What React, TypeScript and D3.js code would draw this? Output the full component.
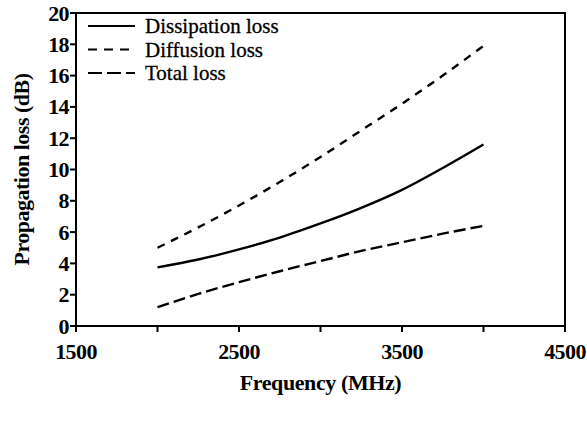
import React from "react";
import * as d3 from "d3";

const freq = [2000, 2250, 2500, 2750, 3000, 3250, 3500, 3750, 4000];
const dissipation = [3.75, 4.25, 4.9, 5.65, 6.55, 7.55, 8.7, 10.1, 11.6];
const diffusion = [5.0, 6.3, 7.7, 9.2, 10.8, 12.5, 14.2, 16.0, 17.9];
const total = [1.2, 2.05, 2.8, 3.5, 4.15, 4.8, 5.35, 5.9, 6.4];
const xTicks = [1500, 2000, 2500, 3000, 3500, 4000, 4500];
const xLabels = [1500, 2500, 3500, 4500];
const yTicks = [0, 2, 4, 6, 8, 10, 12, 14, 16, 18, 20];
const seriesNames = ["Dissipation loss", "Diffusion loss", "Total loss"];

const W = 587, H = 425;
const M = { left: 76, right: 22, top: 13, bottom: 99 };
const FONT = "Liberation Serif";

export default function App() {
  const x = d3.scaleLinear().domain([1500, 4500]).range([M.left, W - M.right]);
  const y = d3.scaleLinear().domain([0, 20]).range([H - M.bottom, M.top]);
  const line = d3
    .line<number>()
    .x((_, i) => x(freq[i]))
    .y((d) => y(d))
    .curve(d3.curveMonotoneX);
  const series = [
    { name: seriesNames[0], values: dissipation, dash: "none" },
    { name: seriesNames[1], values: diffusion, dash: "8,7" },
    { name: seriesNames[2], values: total, dash: "12,5" },
  ];
  const x0 = M.left, x1 = W - M.right, y0 = H - M.bottom, y1 = M.top;
  const rowY = (i: number) => 26 + i * 23.5;
  return (
    <svg width={W} height={H} style={{ position: "absolute", left: 0, top: 0, background: "#fff" }}>
      <rect x={x0} y={y1} width={x1 - x0} height={y0 - y1} fill="none" stroke="#000" strokeWidth={2} />
      {xTicks.map((t) => (
        <line key={"xt" + t} x1={x(t)} x2={x(t)} y1={y0} y2={y0 + 6} stroke="#000" strokeWidth={2} />
      ))}
      {xLabels.map((t) => (
        <text key={"xl" + t} x={x(t)} y={y0 + 33} textAnchor="middle" fontFamily={FONT} fontWeight="bold" fontSize={22} letterSpacing={-0.6}>
          {t}
        </text>
      ))}
      {yTicks.map((t) => (
        <g key={"yt" + t}>
          <line x1={x0 - 6} x2={x0} y1={y(t)} y2={y(t)} stroke="#000" strokeWidth={2} />
          <text x={x0 - 7} y={y(t) + 7.5} textAnchor="end" fontFamily={FONT} fontWeight="bold" fontSize={22} letterSpacing={-0.6}>
            {t}
          </text>
        </g>
      ))}
      <text x={(x0 + x1) / 2} y={y0 + 64} textAnchor="middle" fontFamily={FONT} fontWeight="bold" fontSize={22} letterSpacing={-0.4}>
        Frequency (MHz)
      </text>
      <text transform={`translate(29,${(y0 + y1) / 2}) rotate(-90)`} textAnchor="middle" fontFamily={FONT} fontWeight="bold" fontSize={22} letterSpacing={-0.5}>
        Propagation loss (dB)
      </text>
      {series.map((s) => (
        <path key={s.name} d={line(s.values) || ""} fill="none" stroke="#000" strokeWidth={2.4} strokeDasharray={s.dash} />
      ))}
      {series.map((s, i) => (
        <g key={"lg" + i}>
          <line
            x1={88}
            x2={135}
            y1={rowY(i)}
            y2={rowY(i)}
            stroke="#000"
            strokeWidth={2}
            strokeDasharray={i === 0 ? "none" : i === 1 ? "9,7" : "14,5"}
          />
          <text x={145} y={rowY(i) + 7} fontFamily={FONT} fontSize={21} stroke="#000" strokeWidth={0.3}>
            {s.name}
          </text>
        </g>
      ))}
    </svg>
  );
}
